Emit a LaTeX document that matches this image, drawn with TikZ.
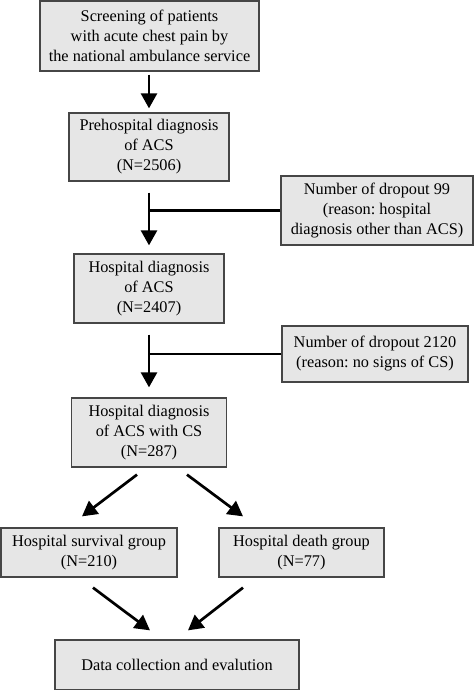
\documentclass[tikz,border=0pt]{standalone}
\usepackage{fontspec}
\setmainfont{Liberation Serif}
\usetikzlibrary{arrows.meta}
\definecolor{boxfill}{RGB}{230,230,230}
\definecolor{boxline}{RGB}{70,70,70}
\tikzset{
  flowbox/.style={draw=boxline, line width=1.3pt, fill=boxfill, rectangle,
    inner sep=0pt, align=center, font=\fontsize{16.3}{20}\selectfont},
  arr/.style={line width=2.7pt, -{Triangle[length=15pt,width=16pt]}},
  joinline/.style={line width=2.7pt},
}
\begin{document}
\frenchspacing
\begin{tikzpicture}[x=1pt,y=-1pt]
\useasboundingbox (0,0) rectangle (474,690);
\node[flowbox, minimum width=219pt, minimum height=70pt] (b1) at (149.5,36)
  {Screening of patients\\with acute chest pain by\\the national ambulance service};
\node[flowbox, minimum width=160pt, minimum height=68pt] (b2) at (149,147)
  {Prehospital diagnosis\\of ACS\\(N=2506)};
\node[flowbox, minimum width=192pt, minimum height=69pt] (d1) at (377,210.5)
  {Number of dropout 99\\(reason: hospital\\diagnosis other than ACS)};
\node[flowbox, minimum width=150pt, minimum height=69pt] (b3) at (149,288.5)
  {Hospital diagnosis\\of ACS\\(N=2407)};
\node[flowbox, minimum width=186pt, minimum height=56pt] (d2) at (375,354)
  {Number of dropout 2120\\(reason: no signs of CS)};
\node[flowbox, minimum width=155pt, minimum height=69pt] (b4) at (149,432.5)
  {Hospital diagnosis\\of ACS with CS\\(N=287)};
\node[flowbox, minimum width=176pt, minimum height=49pt] (b5) at (89,552.5)
  {Hospital survival group\\(N=210)};
\node[flowbox, minimum width=165pt, minimum height=49pt] (b6) at (301.5,552.5)
  {Hospital death group\\(N=77)};
\node[flowbox, minimum width=244pt, minimum height=50pt] (b7) at (177,665)
  {Data collection and evalution};

\draw[arr] ([yshift=-3pt]b1.south -| b2.north) -- ([yshift=4pt]b2.north);
\draw[arr] ([yshift=-11pt]b2.south) -- ([yshift=8pt]b3.north);
\draw[joinline] (d1.west) -- (d1.west -| b2.south);
\draw[arr] ([yshift=-11pt]b3.south) -- ([yshift=10pt]b4.north);
\draw[joinline] (d2.west) -- (d2.west -| b3.south);
\draw[arr] ([xshift=-12pt,yshift=-7pt]b4.south) -- ([xshift=-7pt,yshift=11pt]b5.north);
\draw[arr] ([xshift=38pt,yshift=-7pt]b4.south) -- ([xshift=-58.5pt,yshift=11pt]b6.north);
\draw[arr] ([xshift=4pt,yshift=-10pt]b5.south) -- ([xshift=-27pt,yshift=9pt]b7.north);
\draw[arr] ([xshift=-58.5pt,yshift=-10pt]b6.south) -- ([xshift=11pt,yshift=9pt]b7.north);
\end{tikzpicture}
\end{document}
